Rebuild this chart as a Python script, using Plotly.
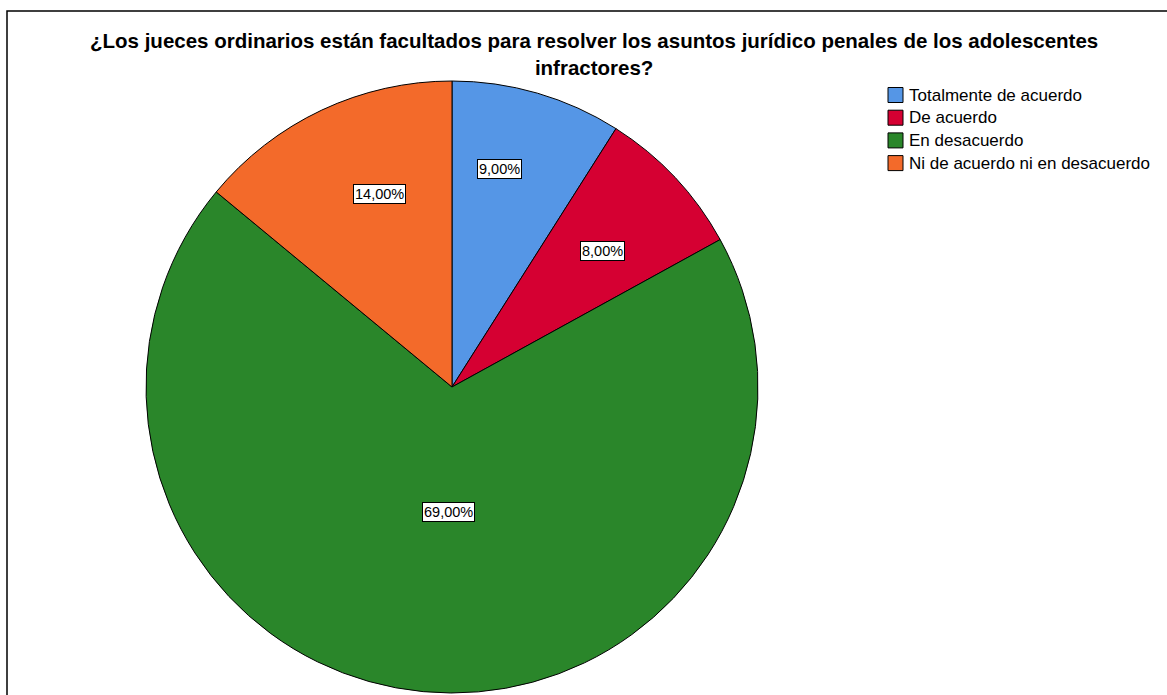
import math
import plotly.graph_objects as go

categories = ["Totalmente de acuerdo", "De acuerdo", "En desacuerdo", "Ni de acuerdo ni en desacuerdo"]
values = [9.0, 8.0, 69.0, 14.0]
colors = ["#5596E6", "#D50032", "#2A862A", "#F36A2A"]
title_lines = ["¿Los jueces ordinarios están facultados para resolver los asuntos jurídico penales de los adolescentes",
               "infractores?"]

# label placement (layout only): radial fraction and angular shift (deg)
label_radius = [0.729, 0.663, 0.409, 0.674]
label_shift = [-4.0, 1.2, -3.6, 4.5]

W, H = 1167, 695
cx, cy, R = 452, 387, 306

fig = go.Figure()
fig.add_trace(go.Pie(
    labels=categories, values=values, sort=False, direction="clockwise", rotation=0,
    marker=dict(colors=colors, line=dict(color="#000000", width=1)),
    textinfo="none", hoverinfo="label+percent", showlegend=False,
    domain=dict(x=[(cx - R) / W, (cx + R) / W], y=[1 - (cy + R) / H, 1 - (cy - R) / H]),
))

total = sum(values)
annotations = []
shapes = []
cum = 0.0
for v, rf, sh in zip(values, label_radius, label_shift):
    mid = (cum + v / 2) / total * 2 * math.pi + math.radians(sh)
    cum += v
    px = cx + rf * R * math.sin(mid)
    py = cy - rf * R * math.cos(mid)
    annotations.append(dict(
        x=px / W, y=1 - py / H, xref="paper", yref="paper", xanchor="center", yanchor="middle",
        text=f"{v:.2f}%".replace(".", ","), showarrow=False,
        font=dict(family="Liberation Sans, Arial", size=14.5, color="#000000"),
        bgcolor="#FFFFFF", bordercolor="#000000", borderwidth=1, borderpad=1,
    ))

annotations.append(dict(
    x=594 / W, y=1 - 54 / H, xref="paper", yref="paper", xanchor="center", yanchor="middle",
    text="<b>" + "<br>".join(title_lines) + "</b>", showarrow=False, borderpad=0, align="center",
    font=dict(family="Liberation Sans, Arial", size=20.5, color="#000000"),
))

# legend (built from categories / colors)
lx, ly0, lstep, sq = 888, 95, 22.7, 15
for i, (cat, col) in enumerate(zip(categories, colors)):
    yc = ly0 + i * lstep
    shapes.append(dict(type="rect", xref="paper", yref="paper",
                       x0=lx / W, x1=(lx + sq) / W,
                       y0=1 - (yc + sq / 2) / H, y1=1 - (yc - sq / 2) / H,
                       fillcolor=col, line=dict(color="#000000", width=1)))
    annotations.append(dict(
        x=(lx + sq + 5) / W, y=1 - yc / H, xref="paper", yref="paper",
        xanchor="left", yanchor="middle", text=cat, showarrow=False, borderpad=0,
        font=dict(family="Liberation Sans, Arial", size=17, color="#000000"),
    ))

shapes.append(dict(type="rect", xref="paper", yref="paper",
                   x0=7 / W, x1=1.05, y0=-0.05, y1=1 - 11 / H,
                   line=dict(color="#000000", width=1.5)))

fig.update_layout(
    width=W, height=H,
    margin=dict(l=0, r=0, t=0, b=0),
    paper_bgcolor="#FFFFFF", plot_bgcolor="#FFFFFF",
    showlegend=False,
    annotations=annotations,
    shapes=shapes,
)

fig.write_html("out.html")
